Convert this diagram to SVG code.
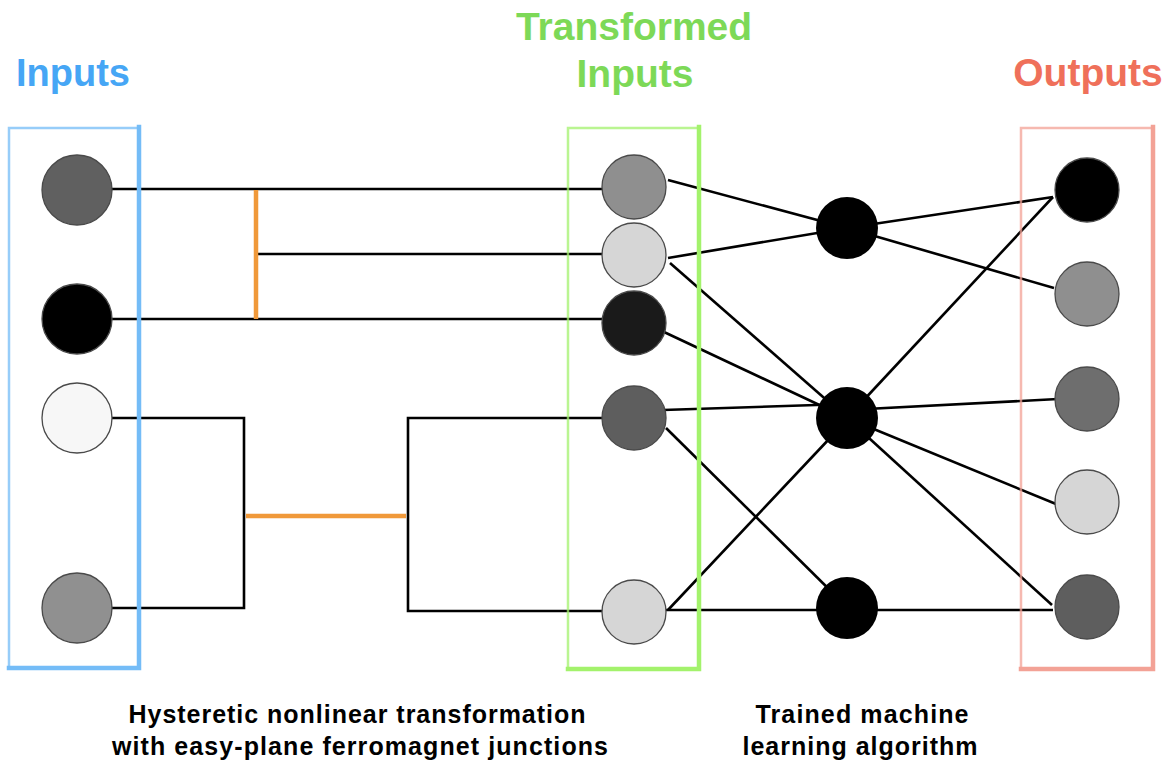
<svg xmlns="http://www.w3.org/2000/svg" width="1174" height="768" viewBox="0 0 1174 768">
  <style>
    .title { font-family: "Liberation Sans", Arial, sans-serif; font-weight: bold; text-anchor: middle; }
    .caption { font-family: "Liberation Sans", Arial, sans-serif; font-weight: bold; font-size: 25px; fill: #000; text-anchor: middle; }
    .wire { fill: none; stroke: #000; stroke-width: 2.6; }
    .junction { fill: none; stroke: #f0993a; stroke-width: 4.5; }
    .node { stroke: #4a4a4a; stroke-width: 1.3; }
    .edge-soft { fill: none; stroke-width: 2.5; stroke-linecap: round; opacity: 0.75; }
    .edge-hard { fill: none; stroke-width: 4.5; stroke-linecap: square; }
  </style>

  <rect width="1174" height="768" fill="#fff"/>

  <!-- titles -->
  <text class="title" x="73" y="86" font-size="38" fill="#46a6f5">Inputs</text>
  <text class="title" x="634" y="40" font-size="39" fill="#7dd957">Transformed</text>
  <text class="title" x="635" y="87" font-size="39" fill="#7dd957">Inputs</text>
  <text class="title" x="1088" y="86" font-size="39" fill="#ef705a">Outputs</text>

  <!-- connectors -->
  <g id="connectors">
    <!-- input layer to transformed layer -->
    <line class="wire" x1="77" y1="189" x2="634" y2="189"/>
    <line class="wire" x1="256" y1="254" x2="634" y2="254"/>
    <line class="wire" x1="77" y1="319" x2="634" y2="319"/>
    <path class="wire" d="M77,418 H244 V608 H77"/>
    <path class="wire" d="M634,418 H408 V611 H634"/>
    <line class="junction" x1="256" y1="190" x2="256" y2="319"/>
    <line class="junction" x1="246" y1="516" x2="406" y2="516"/>

    <!-- transformed layer to hidden layer -->
    <line class="wire" x1="668" y1="180" x2="847" y2="228"/>
    <line class="wire" x1="668" y1="258" x2="847" y2="228"/>
    <line class="wire" x1="670" y1="263" x2="847" y2="418"/>
    <line class="wire" x1="664" y1="332" x2="847" y2="418"/>
    <line class="wire" x1="663" y1="410" x2="847" y2="404"/>
    <line class="wire" x1="666" y1="428" x2="847" y2="607"/>
    <line class="wire" x1="668" y1="610" x2="847" y2="420"/>
    <line class="wire" x1="666" y1="610" x2="1053" y2="610"/>

    <!-- hidden layer to outputs -->
    <line class="wire" x1="847" y1="228" x2="1053" y2="197"/>
    <line class="wire" x1="847" y1="228" x2="1054" y2="288"/>
    <line class="wire" x1="847" y1="418" x2="1053" y2="197"/>
    <line class="wire" x1="847" y1="410" x2="1058" y2="399"/>
    <line class="wire" x1="847" y1="418" x2="1056" y2="504"/>
    <line class="wire" x1="847" y1="418" x2="1052" y2="605"/>
  </g>

  <!-- layer frames -->
  <g id="inputs-frame" stroke="#74bcf7">
    <path class="edge-soft" d="M9,668 V128 H139"/>
    <path class="edge-hard" d="M139,127 V668 H9"/>
  </g>
  <g id="transformed-frame" stroke="#a3f26c">
    <path class="edge-soft" d="M568,669 V128 H699"/>
    <path class="edge-hard" d="M699,127 V669 H568"/>
  </g>
  <g id="outputs-frame" stroke="#f3a296">
    <path class="edge-soft" d="M1021,669 V128 H1153"/>
    <path class="edge-hard" d="M1153,127 V669 H1021"/>
  </g>

  <!-- input nodes -->
  <g id="in1"><circle class="node" cx="77" cy="190" r="35" fill="#606060"/></g>
  <g id="in2"><circle class="node" cx="77" cy="319" r="35" fill="#000"/></g>
  <g id="in3"><circle class="node" cx="77" cy="418" r="35" fill="#f7f7f7"/></g>
  <g id="in4"><circle class="node" cx="77" cy="608" r="35" fill="#909090"/></g>

  <!-- transformed input nodes -->
  <g id="tr1"><circle class="node" cx="634" cy="187" r="32" fill="#8f8f8f"/></g>
  <g id="tr2"><circle class="node" cx="634" cy="255" r="32" fill="#d6d6d6"/></g>
  <g id="tr3"><circle class="node" cx="634" cy="323" r="32" fill="#1a1a1a"/></g>
  <g id="tr4"><circle class="node" cx="634" cy="418" r="32" fill="#5e5e5e"/></g>
  <g id="tr5"><circle class="node" cx="634" cy="612" r="32" fill="#d6d6d6"/></g>

  <!-- hidden nodes -->
  <g id="h1"><circle cx="847" cy="228" r="31" fill="#000"/></g>
  <g id="h2"><circle cx="847" cy="418" r="31" fill="#000"/></g>
  <g id="h3"><circle cx="847" cy="608" r="31" fill="#000"/></g>

  <!-- output nodes -->
  <g id="out1"><circle class="node" cx="1087" cy="190" r="32" fill="#000"/></g>
  <g id="out2"><circle class="node" cx="1087" cy="294" r="32" fill="#8f8f8f"/></g>
  <g id="out3"><circle class="node" cx="1087" cy="399" r="32" fill="#6e6e6e"/></g>
  <g id="out4"><circle class="node" cx="1087" cy="502" r="32" fill="#d6d6d6"/></g>
  <g id="out5"><circle class="node" cx="1087" cy="607" r="32" fill="#5e5e5e"/></g>

  <!-- captions -->
  <text class="caption" x="357" y="723" textLength="457" lengthAdjust="spacing">Hysteretic nonlinear transformation</text>
  <text class="caption" x="360" y="755" textLength="496" lengthAdjust="spacing">with easy-plane ferromagnet junctions</text>
  <text class="caption" x="862" y="723" textLength="213" lengthAdjust="spacing">Trained machine</text>
  <text class="caption" x="860" y="755" textLength="235" lengthAdjust="spacing">learning algorithm</text>
</svg>
